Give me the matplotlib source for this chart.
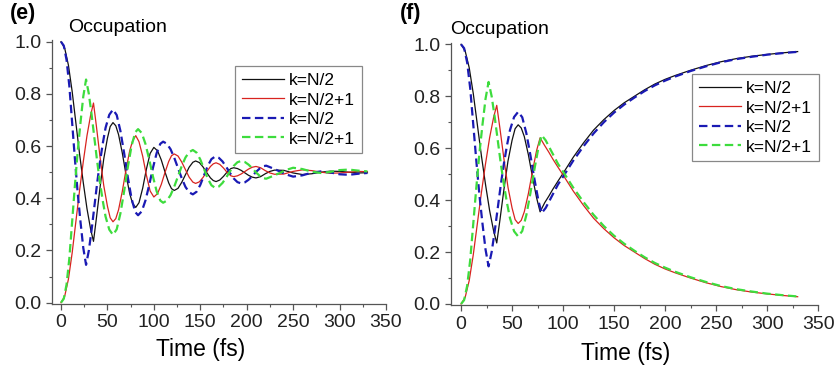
import matplotlib
matplotlib.use("Agg")
import matplotlib.pyplot as plt
from matplotlib.ticker import MultipleLocator

plt.rcParams['font.family'] = ['Liberation Sans', 'DejaVu Sans']

# ---- panel (e) : solid pair ----
t_solid_e = [0, 4, 8, 12, 16, 20, 24, 28, 32, 35, 38, 42, 46, 50, 53, 56, 59, 62, 66, 70,
             74, 77, 80.5, 84, 88, 92, 96, 100, 104, 108, 112, 116, 119, 122, 126, 130, 134,
             138, 142, 145, 149, 153, 157, 161, 164, 167, 171, 175, 179, 183, 186, 190, 194,
             198, 202, 206, 210, 215, 220, 225, 230, 240, 250, 260, 270, 280, 290, 300, 310,
             320, 330]
black_e = [1.0, 0.975, 0.91, 0.81, 0.69, 0.57, 0.46, 0.36, 0.28, 0.235, 0.32, 0.44, 0.55, 0.63,
           0.675, 0.69, 0.678, 0.644, 0.574, 0.491, 0.418, 0.381, 0.365, 0.383, 0.439, 0.512,
           0.572, 0.595, 0.582, 0.547, 0.501, 0.459, 0.437, 0.43, 0.438, 0.461, 0.49, 0.519,
           0.538, 0.543, 0.537, 0.52, 0.498, 0.478, 0.468, 0.464, 0.47, 0.484, 0.501, 0.514,
           0.517, 0.514, 0.507, 0.4975, 0.488, 0.481, 0.478, 0.483, 0.494, 0.503, 0.508, 0.507,
           0.497, 0.491, 0.494, 0.5, 0.504, 0.503, 0.5, 0.497, 0.498]
red_e = [0.0, 0.025, 0.09, 0.19, 0.31, 0.43, 0.54, 0.64, 0.72, 0.765, 0.68, 0.56, 0.45, 0.37,
         0.325, 0.31, 0.322, 0.356, 0.426, 0.509, 0.582, 0.619, 0.64, 0.617, 0.561, 0.488,
         0.428, 0.405, 0.418, 0.453, 0.499, 0.541, 0.563, 0.57, 0.562, 0.539, 0.51, 0.481,
         0.462, 0.457, 0.463, 0.48, 0.502, 0.522, 0.532, 0.536, 0.53, 0.516, 0.499, 0.486,
         0.483, 0.486, 0.493, 0.5025, 0.512, 0.519, 0.522, 0.517, 0.506, 0.497, 0.492, 0.493,
         0.503, 0.509, 0.506, 0.5, 0.496, 0.497, 0.5, 0.503, 0.502]

# ---- panel (e) : dashed pair ----
t_dash_e = [0, 3, 6, 9, 12, 15, 18, 21, 24, 27, 30, 33, 36, 39, 42, 45, 48, 52, 56, 60, 64, 68,
            72, 76, 80, 83, 87, 91, 95, 99, 103, 107, 110, 114, 118, 122, 126, 130, 134, 138,
            142, 146, 150, 154, 158, 162, 166, 170, 174, 178, 182, 186, 190, 194, 198, 202,
            206, 210, 214, 218, 221, 228, 235, 242, 250, 260, 270, 280, 290, 300, 310, 320, 330]
blue_e = [1.0, 0.985, 0.93, 0.83, 0.69, 0.55, 0.42, 0.31, 0.21, 0.145, 0.2, 0.28, 0.37, 0.46,
          0.54, 0.61, 0.67, 0.72, 0.74, 0.719, 0.658, 0.573, 0.48, 0.399, 0.347, 0.335, 0.35,
          0.392, 0.451, 0.516, 0.573, 0.609, 0.617, 0.609, 0.588, 0.555, 0.516, 0.477, 0.444,
          0.423, 0.415, 0.425, 0.451, 0.4875, 0.524, 0.55, 0.56, 0.555, 0.541, 0.52, 0.497,
          0.476, 0.462, 0.457, 0.461, 0.471, 0.485, 0.501, 0.514, 0.523, 0.525, 0.515, 0.504,
          0.492, 0.483, 0.488, 0.498, 0.503, 0.499, 0.492, 0.49, 0.494, 0.497]
green_e = [0.0, 0.015, 0.07, 0.17, 0.31, 0.45, 0.58, 0.69, 0.79, 0.855, 0.8, 0.72, 0.63, 0.54,
           0.46, 0.39, 0.33, 0.28, 0.26, 0.281, 0.342, 0.427, 0.52, 0.601, 0.653, 0.665, 0.65,
           0.608, 0.549, 0.484, 0.427, 0.391, 0.383, 0.391, 0.412, 0.445, 0.484, 0.523, 0.556,
           0.577, 0.585, 0.575, 0.549, 0.5125, 0.476, 0.45, 0.44, 0.445, 0.459, 0.48, 0.503,
           0.524, 0.538, 0.543, 0.539, 0.529, 0.515, 0.499, 0.486, 0.477, 0.475, 0.485, 0.496,
           0.508, 0.517, 0.512, 0.502, 0.497, 0.501, 0.508, 0.51, 0.506, 0.503]

# ---- panel (f) : solid pair ----
t_solid_f = [0, 4, 8, 12, 16, 20, 24, 28, 32, 35, 38, 42, 46, 50, 53, 56, 59, 62, 66, 70, 74,
             77.5, 82, 86, 90, 95, 100, 110, 120, 130, 140, 150, 160, 170, 180, 190, 200, 210,
             225, 240, 255, 270, 285, 300, 315, 330]
black_f = [1.0, 0.975, 0.91, 0.81, 0.69, 0.57, 0.46, 0.36, 0.28, 0.235, 0.32, 0.44, 0.55, 0.63,
           0.675, 0.69, 0.678, 0.645, 0.575, 0.49, 0.41, 0.355, 0.39, 0.415, 0.442, 0.473,
           0.503, 0.565, 0.62, 0.67, 0.71, 0.745, 0.775, 0.8, 0.825, 0.847, 0.865, 0.88, 0.9,
           0.918, 0.933, 0.945, 0.954, 0.961, 0.967, 0.972]
red_f = [0.0, 0.025, 0.09, 0.19, 0.31, 0.43, 0.54, 0.64, 0.72, 0.765, 0.68, 0.56, 0.45, 0.37,
         0.325, 0.31, 0.322, 0.355, 0.425, 0.51, 0.59, 0.64, 0.61, 0.585, 0.558, 0.527, 0.497,
         0.435, 0.38, 0.33, 0.29, 0.255, 0.225, 0.2, 0.175, 0.153, 0.135, 0.12, 0.1, 0.082,
         0.067, 0.055, 0.046, 0.039, 0.033, 0.028]

# ---- panel (f) : dashed pair ----
t_dash_f = [0, 3, 6, 9, 12, 15, 18, 21, 24, 27, 30, 33, 36, 39, 42, 45, 48, 52, 56, 60, 64, 68,
            72, 76, 79, 83, 87, 91, 95, 100, 110, 120, 130, 140, 150, 160, 170, 180, 190, 200,
            210, 225, 240, 255, 270, 285, 300, 315, 330]
blue_f = [1.0, 0.985, 0.93, 0.83, 0.69, 0.55, 0.42, 0.31, 0.21, 0.145, 0.2, 0.28, 0.37, 0.46,
          0.54, 0.61, 0.67, 0.72, 0.74, 0.719, 0.658, 0.573, 0.48, 0.395, 0.35, 0.37, 0.4,
          0.43, 0.46, 0.49, 0.552, 0.607, 0.657, 0.7, 0.737, 0.768, 0.795, 0.82, 0.842, 0.86,
          0.876, 0.897, 0.915, 0.931, 0.943, 0.952, 0.96, 0.966, 0.971]
green_f = [0.0, 0.015, 0.07, 0.17, 0.31, 0.45, 0.58, 0.69, 0.79, 0.855, 0.8, 0.72, 0.63, 0.54,
           0.46, 0.39, 0.33, 0.28, 0.26, 0.281, 0.342, 0.427, 0.52, 0.605, 0.65, 0.63, 0.6,
           0.57, 0.54, 0.51, 0.448, 0.393, 0.343, 0.3, 0.263, 0.232, 0.205, 0.18, 0.158, 0.14,
           0.124, 0.103, 0.085, 0.069, 0.057, 0.048, 0.04, 0.034, 0.029]

labels = ["k=N/2", "k=N/2+1", "k=N/2", "k=N/2+1"]
c_black, c_red, c_blue, c_green = "#111111", "#d8231f", "#1a1ab4", "#3ddc3d"

fig = plt.figure(figsize=(8.38, 3.74), dpi=100)
ax_e = fig.add_axes([0.0617, 0.1872, 0.3989, 0.7048])
ax_f = fig.add_axes([0.538, 0.1837, 0.4382, 0.7013])


def draw(ax, ts, k, r, td, b, g, leg_xy):
    ax.plot(ts, k, color=c_black, lw=0.9, label=labels[0])
    ax.plot(ts, r, color=c_red, lw=0.9, label=labels[1])
    ax.plot(td, b, color=c_blue, lw=1.6, dashes=(3.8, 2.0), label=labels[2])
    ax.plot(td, g, color=c_green, lw=1.6, dashes=(3.8, 2.0), label=labels[3])
    ax.set_xlim(-10, 350)
    ax.set_ylim(-0.005, 1.005)
    for s in ["top", "right"]:
        ax.spines[s].set_visible(False)
    for s in ["left", "bottom"]:
        ax.spines[s].set_color("#555555")
        ax.spines[s].set_linewidth(0.9)
    ax.xaxis.set_major_locator(MultipleLocator(50))
    ax.xaxis.set_minor_locator(MultipleLocator(25))
    ax.yaxis.set_minor_locator(MultipleLocator(0.1))
    ax.set_yticks([0, 0.2, 0.4, 0.6, 0.8, 1.0])
    ax.set_yticklabels(["0.0", "0.2", "0.4", "0.6", "0.8", "1.0"])
    ax.tick_params(which="major", direction="out", length=4.5, width=0.9, color="#555555",
                   labelsize=14, labelcolor="#222222", pad=3)
    ax.tick_params(which="minor", direction="out", length=2.5, width=0.8, color="#555555")
    leg = ax.legend(loc="upper left", bbox_to_anchor=leg_xy, borderaxespad=0, fontsize=12.5,
                    handlelength=2.4, handletextpad=0.3, labelspacing=0.25,
                    borderpad=0.4, fancybox=False, framealpha=1)
    leg.get_frame().set_edgecolor("#888888")
    leg.get_frame().set_linewidth(0.9)


draw(ax_e, t_solid_e, black_e, red_e, t_dash_e, blue_e, green_e, (0.548, 0.903))
draw(ax_f, t_solid_f, black_f, red_f, t_dash_f, blue_f, green_f, (0.657, 0.882))

fig.text(10 / 838, 1 - 19 / 374, "(e)", fontsize=15.5, fontweight="bold", va="baseline")
fig.text(68 / 838, 1 - 32 / 374, "Occupation", fontsize=14, va="baseline")
fig.text(400 / 838, 1 - 19 / 374, "(f)", fontsize=15.5, fontweight="bold", va="baseline")
fig.text(450 / 838, 1 - 33.5 / 374, "Occupation", fontsize=14, va="baseline")
fig.text(201 / 838, 1 - 356 / 374, "Time (fs)", fontsize=16.5, ha="center", va="baseline")
fig.text(626 / 838, 1 - 360 / 374, "Time (fs)", fontsize=16.5, ha="center", va="baseline")

fig.savefig("out.png", dpi=100)
